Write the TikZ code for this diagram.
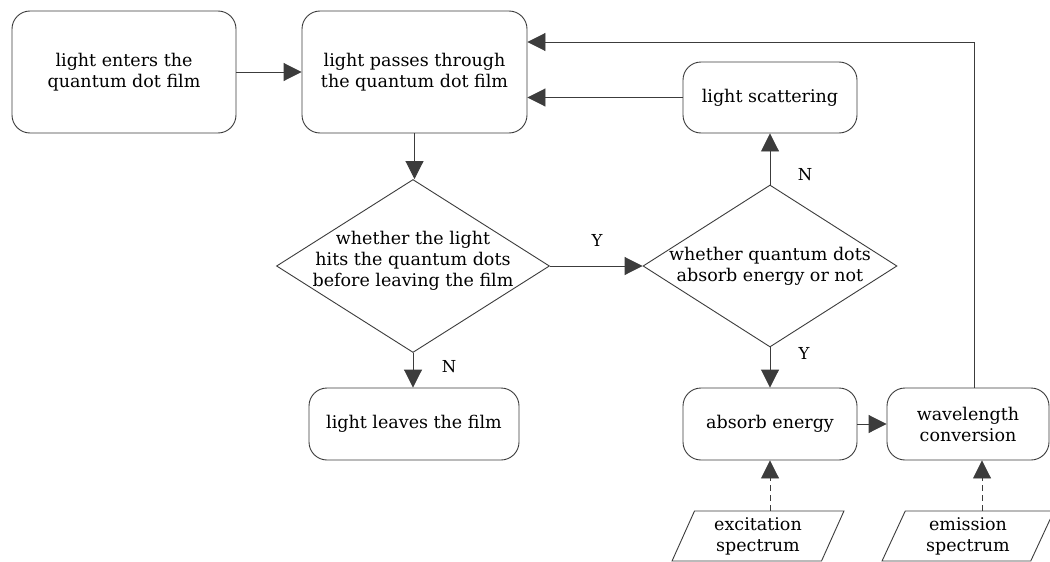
\documentclass[tikz,border=0pt]{standalone}
\usepackage{fontspec}
\setmainfont{DejaVu Serif}
\usetikzlibrary{shapes.geometric,arrows.meta}
\definecolor{linec}{RGB}{60,60,60}
\newcommand{\mainfs}{\fontsize{17.5}{21}\selectfont}
\newcommand{\labfs}{\fontsize{16.5}{20}\selectfont}
\tikzset{
  box/.style={draw=linec, line width=0.9pt, rounded corners=18pt, align=center,
    inner sep=0pt, font=\mainfs, text=black},
  decision/.style={draw=linec, line width=0.9pt, diamond, inner sep=0pt},
  datain/.style={draw=linec, line width=0.9pt, trapezium, trapezium stretches=true,
    trapezium left angle=67.6, trapezium right angle=112.4,
    minimum width=172pt, minimum height=50pt, inner sep=0pt, align=center, font=\mainfs},
  arr/.style={draw=linec, line width=0.9pt, -{Triangle[length=18pt,width=18pt]}},
  dasharr/.style={arr, dash pattern=on 6pt off 4pt},
  yn/.style={font=\labfs, text=black, inner sep=0pt}
}
\begin{document}
\begin{tikzpicture}[x=1pt,y=-1pt]
\clip (0,0) rectangle (1050,562);
\fill[white] (0,0) rectangle (1050,562);
% boxes
\node[box, minimum width=224pt, minimum height=122pt] (enter) at (124,72)
  {light enters the\\quantum dot film};
\node[box, minimum width=225pt, minimum height=122pt] (pass) at (414.5,72)
  {light passes through\\the quantum dot film};
\node[box, minimum width=174pt, minimum height=71pt] (scat) at (770,97.5)
  {light scattering};
\node[decision, minimum width=273pt, minimum height=173pt,
  label={[align=center, font=\mainfs, yshift=5pt]center:whether the light\\hits the quantum dots\\before leaving the film}] (d1) at (413,266) {};
\node[decision, minimum width=254pt, minimum height=162pt,
  label={[align=center, font=\mainfs]center:whether quantum dots\\absorb energy or not}] (d2) at (770,266) {};
\node[box, minimum width=210pt, minimum height=72pt] (leave) at (414,424)
  {light leaves the film};
\node[box, minimum width=174pt, minimum height=72pt] (absorb) at (770,424)
  {absorb energy};
\node[box, minimum width=162pt, minimum height=72pt] (wave) at (968,424)
  {wavelength\\conversion};
\node[datain] (exc) at (758,536) {excitation\\spectrum};
\node[datain] (emi) at (968,536) {emission\\spectrum};
% connectors
\draw[arr] (enter.east) -- (pass.west);
\draw[arr] (pass.south) -- (pass.south |- d1.north);
\draw[arr] (d1.east) -- (d2.west);
\draw[arr] (d1.south) -- (d1.south |- leave.north);
\draw[arr] (d2.north) -- (scat.south);
\draw[arr] (d2.south) -- (absorb.north);
\draw[arr] (scat.west) -- (scat.west -| pass.east);
\draw[arr] (absorb.east) -- (wave.west);
\coordinate (loopstart) at ([xshift=6pt]wave.north);
\coordinate (loopend) at ([yshift=30pt]pass.east);
\draw[arr] (loopstart) |- (loopend);
\draw[dasharr] (absorb.south |- exc.north) -- (absorb.south);
\coordinate (wbot) at ([xshift=14pt]wave.south);
\draw[dasharr] (wbot |- emi.north) -- (wbot);
% labels
\node[yn] (ly1) at (597,240) {Y};
\node[yn] (ln1) at (449,367) {N};
\node[yn] (ln2) at (805,175) {N};
\node[yn] (ly2) at (804,353) {Y};
\end{tikzpicture}
\end{document}
